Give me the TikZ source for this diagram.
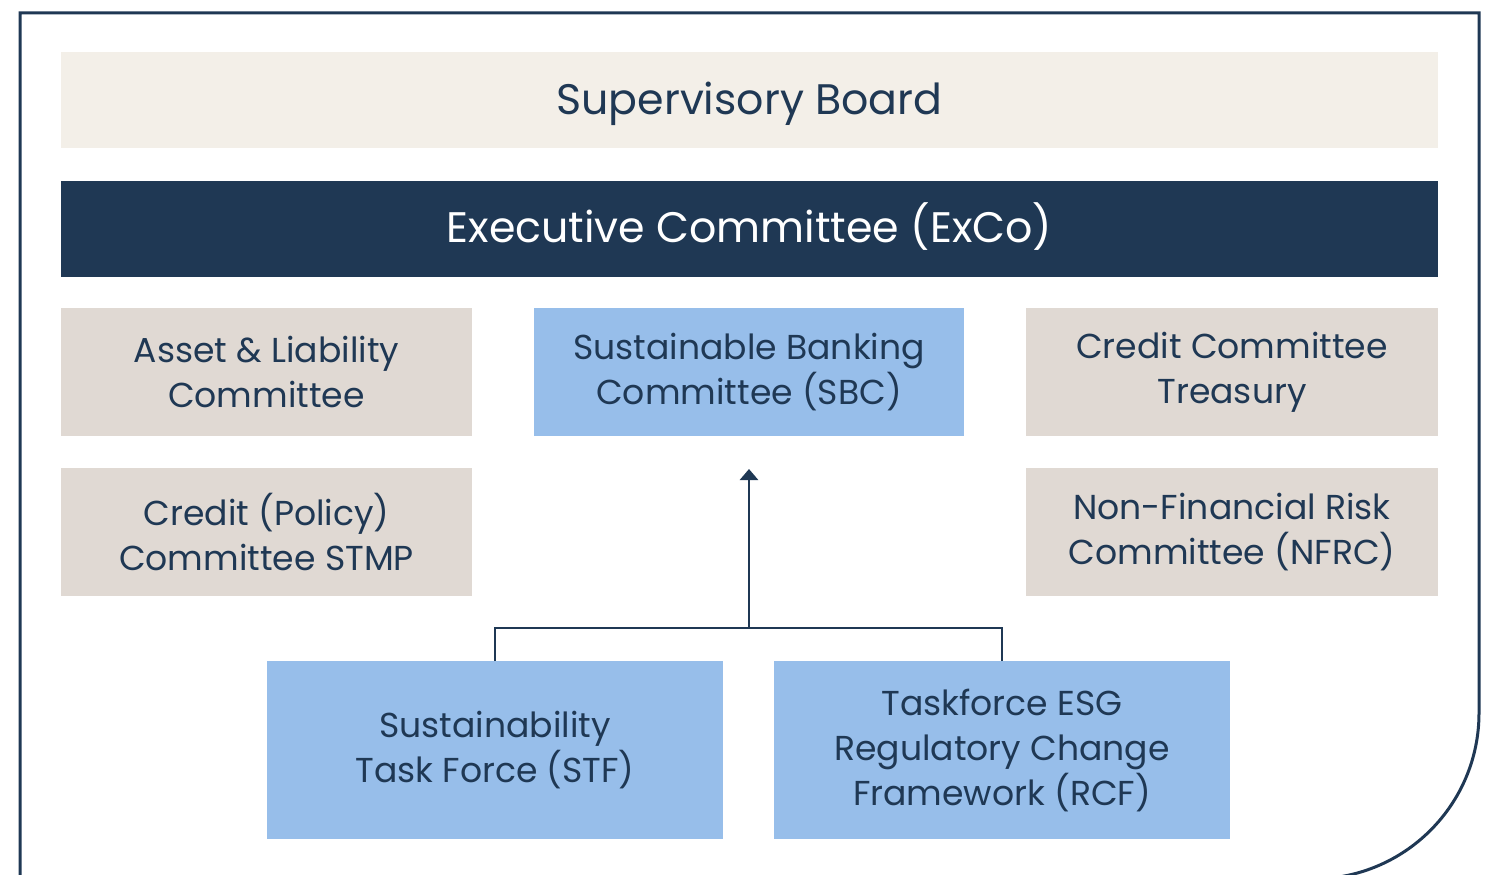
\documentclass[tikz,border=0pt]{standalone}
\usepackage{fontspec}
\setmainfont{Poppins}
\usetikzlibrary{arrows.meta}
\definecolor{navy}{HTML}{1F3854}
\definecolor{cream}{HTML}{F3EFE8}
\definecolor{greige}{HTML}{E0D9D3}
\definecolor{skyblue}{HTML}{97BEEA}
\tikzset{
  box/.style={draw=none, inner sep=0pt, outer sep=0pt, align=center, text=navy},
  bigtxt/.style={font=\fontsize{42.7}{50}\selectfont},
  smalltxt/.style={font=\fontsize{34.6}{45}\selectfont},
  conn/.style={draw=navy, line width=2.6pt},
}
\begin{document}
\begin{tikzpicture}[x=1pt,y=-1pt]
\useasboundingbox (0,0) rectangle (1488,875);
% frame
\draw[draw=navy, line width=3pt] (20,880) -- (20,13) -- (1479,13) -- (1479,713) arc[start angle=0, end angle=90, radius=166];
% boxes
\node[box, fill=cream, minimum width=1377pt, minimum height=96pt] (sb) at (749.5,100) {};
\node[box, bigtxt, anchor=base] at (749.5,114) {Supervisory Board};
\node[box, fill=navy, minimum width=1377pt, minimum height=96pt] (exco) at (749.5,229) {};
\node[box, bigtxt, text=white, anchor=base] at (749.5,242) {Executive Committee (ExCo)};
\node[box, smalltxt, fill=greige, minimum width=411pt, minimum height=128pt] (alc) at (266.5,372) {Asset \& Liability\\Committee};
\node[box, smalltxt, fill=skyblue, minimum width=430pt, minimum height=128pt] (sbc) at (749,372) {Sustainable Banking\\Committee (SBC)};
\node[box, smalltxt, fill=greige, minimum width=412pt, minimum height=128pt] (cct) at (1232,372) {Credit Committee\\Treasury};
\node[box, smalltxt, fill=greige, minimum width=411pt, minimum height=128pt] (cpc) at (266.5,532) {Credit (Policy)\\Committee STMP};
\node[box, smalltxt, fill=greige, minimum width=412pt, minimum height=128pt] (nfrc) at (1232,532) {Non-Financial Risk\\Committee (NFRC)};
\node[box, smalltxt, fill=skyblue, minimum width=456pt, minimum height=178pt] (stf) at (495,750) {Sustainability\\Task Force (STF)};
\node[box, smalltxt, fill=skyblue, minimum width=456pt, minimum height=178pt] (rcf) at (1002,750) {Taskforce ESG\\Regulatory Change\\Framework (RCF)};
% connectors
\coordinate (j) at (749,628);
\coordinate (tip) at (749,469);
\draw[conn] (stf.north) -- (495,628) -- (1002,628) -- (rcf.north);
\draw[conn, -{Triangle[length=11pt,width=18pt]}] (j) -- (tip);
\end{tikzpicture}
\end{document}
